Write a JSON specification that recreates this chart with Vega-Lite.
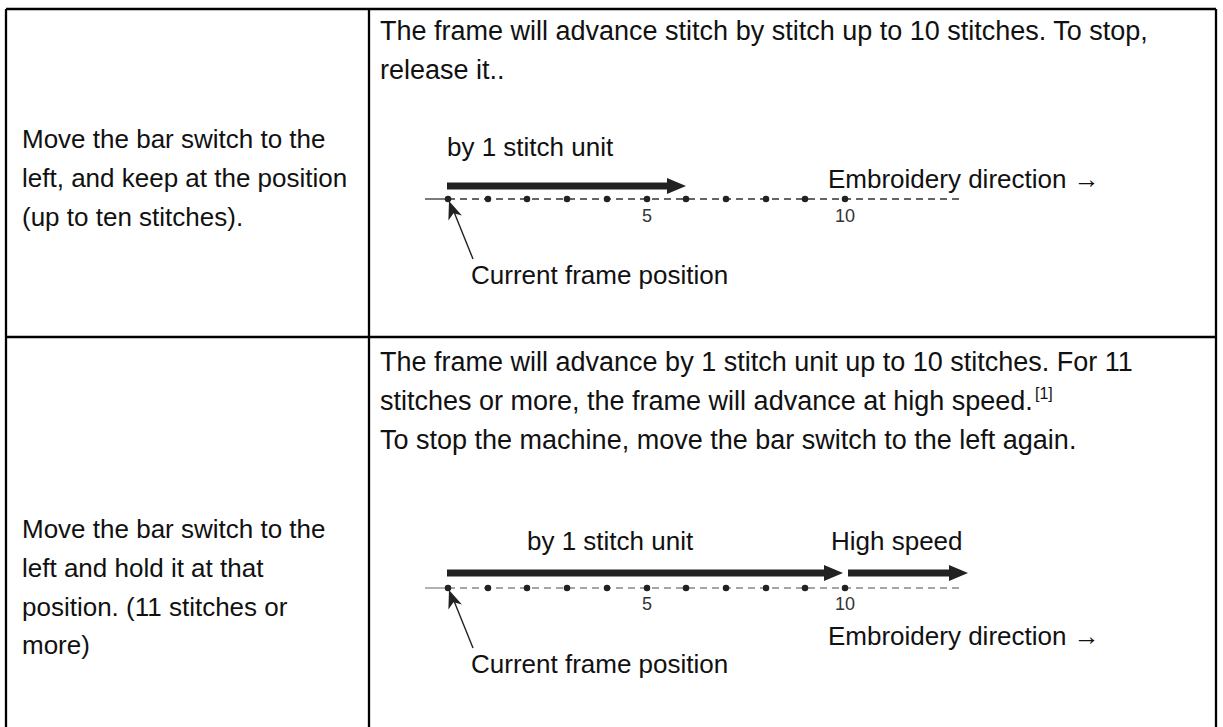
{
  "$schema": "https://vega.github.io/schema/vega-lite/v6.json",
  "width": 1223,
  "height": 727,
  "autosize": {"type": "none"},
  "padding": 0,
  "background": "white",
  "config": {"view": {"stroke": null}, "font": "Liberation Sans"},
  "datasets": {
    "borders": [
      {"x": 6, "y": 9, "x2": 1216, "y2": 9},
      {"x": 6, "y": 337, "x2": 1216, "y2": 337},
      {"x": 6, "y": 9, "x2": 6, "y2": 740},
      {"x": 369, "y": 9, "x2": 369, "y2": 740},
      {"x": 1216, "y": 9, "x2": 1216, "y2": 740}
    ],
    "baseline_solid": [
      {"row": "1", "x": 425, "x2": 448, "y": 199},
      {"row": "2", "x": 425, "x2": 448, "y": 588}
    ],
    "baseline_dash": [
      {"row": "1", "x": 448, "x2": 963, "y": 199},
      {"row": "2", "x": 448, "x2": 963, "y": 588}
    ],
    "dots": [
      {"stitch": 0, "x": 448, "y": 199}, {"stitch": 1, "x": 488, "y": 199}, {"stitch": 2, "x": 527, "y": 199},
      {"stitch": 3, "x": 567, "y": 199}, {"stitch": 4, "x": 607, "y": 199}, {"stitch": 5, "x": 647, "y": 199},
      {"stitch": 6, "x": 686, "y": 199}, {"stitch": 7, "x": 726, "y": 199}, {"stitch": 8, "x": 766, "y": 199},
      {"stitch": 9, "x": 805, "y": 199}, {"stitch": 10, "x": 845, "y": 199},
      {"stitch": 0, "x": 448, "y": 588}, {"stitch": 1, "x": 488, "y": 588}, {"stitch": 2, "x": 527, "y": 588},
      {"stitch": 3, "x": 567, "y": 588}, {"stitch": 4, "x": 607, "y": 588}, {"stitch": 5, "x": 647, "y": 588},
      {"stitch": 6, "x": 686, "y": 588}, {"stitch": 7, "x": 726, "y": 588}, {"stitch": 8, "x": 766, "y": 588},
      {"stitch": 9, "x": 805, "y": 588}, {"stitch": 10, "x": 845, "y": 588}
    ],
    "arrows": [
      {"name": "by 1 stitch unit", "x": 447, "shaftEnd": 670, "tip": 686, "y": 186},
      {"name": "by 1 stitch unit", "x": 447, "shaftEnd": 827, "tip": 843, "y": 573},
      {"name": "High speed", "x": 848, "shaftEnd": 952, "tip": 968, "y": 573}
    ],
    "pointers": [
      {"x": 473, "y": 259, "x2": 452, "y2": 207, "tipx": 449, "tipy": 201},
      {"x": 473, "y": 648, "x2": 452, "y2": 596, "tipx": 449, "tipy": 590}
    ],
    "text_main": [
      {"x": 22, "y": 140, "text": "Move the bar switch to the"},
      {"x": 22, "y": 179, "text": "left, and keep at the position"},
      {"x": 22, "y": 218, "text": "(up to ten stitches)."},
      {"x": 447, "y": 148, "text": "by 1 stitch unit"},
      {"x": 828, "y": 180, "text": "Embroidery direction →"},
      {"x": 471, "y": 276, "text": "Current frame position"},
      {"x": 22, "y": 530, "text": "Move the bar switch to the"},
      {"x": 22, "y": 569, "text": "left and hold it at that"},
      {"x": 22, "y": 608, "text": "position. (11 stitches or"},
      {"x": 22, "y": 646, "text": "more)"},
      {"x": 527, "y": 542, "text": "by 1 stitch unit"},
      {"x": 831, "y": 542, "text": "High speed"},
      {"x": 828, "y": 637, "text": "Embroidery direction →"},
      {"x": 471, "y": 665, "text": "Current frame position"}
    ],
    "text_para": [
      {"x": 380, "y": 32, "text": "The frame will advance stitch by stitch up to 10 stitches. To stop,"},
      {"x": 380, "y": 71, "text": "release it.."},
      {"x": 380, "y": 363, "text": "The frame will advance by 1 stitch unit up to 10 stitches. For 11"},
      {"x": 380, "y": 402, "text": "stitches or more, the frame will advance at high speed."},
      {"x": 380, "y": 441, "text": "To stop the machine, move the bar switch to the left again."}
    ],
    "text_num": [
      {"x": 647, "y": 217, "text": "5"},
      {"x": 845, "y": 217, "text": "10"},
      {"x": 647, "y": 605, "text": "5"},
      {"x": 845, "y": 605, "text": "10"}
    ],
    "text_sup": [
      {"x": 1035, "y": 394, "text": "[1]"}
    ]
  },
  "layer": [
    {
      "data": {"name": "borders"},
      "mark": {"type": "rule", "color": "#000000", "strokeWidth": 2.3},
      "encoding": {
        "x": {"field": "x", "type": "quantitative", "scale": {"domain": [0, 1223], "nice": false, "zero": false}, "axis": null},
        "y": {"field": "y", "type": "quantitative", "scale": {"domain": [0, 727], "nice": false, "zero": false, "reverse": true}, "axis": null},
        "x2": {"field": "x2"},
        "y2": {"field": "y2"}
      }
    },
    {
      "data": {"name": "baseline_solid"},
      "mark": {"type": "rule", "strokeWidth": 1.3},
      "encoding": {
        "x": {"field": "x", "type": "quantitative"},
        "x2": {"field": "x2"},
        "y": {"field": "y", "type": "quantitative"},
        "color": {"field": "row", "type": "nominal", "scale": {"domain": ["1", "2"], "range": ["#333333", "#888888"]}, "legend": null}
      }
    },
    {
      "data": {"name": "baseline_dash"},
      "mark": {"type": "rule", "strokeWidth": 1.3, "strokeDash": [7, 5]},
      "encoding": {
        "x": {"field": "x", "type": "quantitative"},
        "x2": {"field": "x2"},
        "y": {"field": "y", "type": "quantitative"},
        "color": {"field": "row", "type": "nominal", "scale": {"domain": ["1", "2"], "range": ["#333333", "#888888"]}, "legend": null}
      }
    },
    {
      "data": {"name": "dots"},
      "mark": {"type": "point", "shape": "circle", "filled": true, "opacity": 1, "size": 42, "color": "#222222"},
      "encoding": {
        "x": {"field": "x", "type": "quantitative"},
        "y": {"field": "y", "type": "quantitative"}
      }
    },
    {
      "data": {"name": "arrows"},
      "mark": {"type": "rule", "strokeWidth": 7, "color": "#222222"},
      "encoding": {
        "x": {"field": "x", "type": "quantitative"},
        "x2": {"field": "shaftEnd"},
        "y": {"field": "y", "type": "quantitative"}
      }
    },
    {
      "data": {"name": "arrows"},
      "mark": {"type": "point", "shape": "M 0 0 L -2 -0.85 L -2 0.85 Z", "filled": true, "opacity": 1, "size": 361, "color": "#222222"},
      "encoding": {
        "x": {"field": "tip", "type": "quantitative"},
        "y": {"field": "y", "type": "quantitative"}
      }
    },
    {
      "data": {"name": "pointers"},
      "mark": {"type": "rule", "strokeWidth": 1.4, "color": "#222222"},
      "encoding": {
        "x": {"field": "x", "type": "quantitative"},
        "y": {"field": "y", "type": "quantitative"},
        "x2": {"field": "x2"},
        "y2": {"field": "y2"}
      }
    },
    {
      "data": {"name": "pointers"},
      "mark": {"type": "point", "shape": "M 0 0 L -2 -0.8 L -1.45 0 L -2 0.8 Z", "filled": true, "opacity": 1, "size": 324, "angle": 250, "color": "#222222"},
      "encoding": {
        "x": {"field": "tipx", "type": "quantitative"},
        "y": {"field": "tipy", "type": "quantitative"}
      }
    },
    {
      "data": {"name": "text_main"},
      "mark": {"type": "text", "align": "left", "baseline": "middle", "fontSize": 26, "font": "Liberation Sans", "color": "#111111"},
      "encoding": {
        "x": {"field": "x", "type": "quantitative"},
        "y": {"field": "y", "type": "quantitative"},
        "text": {"field": "text", "type": "nominal"}
      }
    },
    {
      "data": {"name": "text_para"},
      "mark": {"type": "text", "align": "left", "baseline": "middle", "fontSize": 27, "font": "Liberation Sans", "color": "#111111"},
      "encoding": {
        "x": {"field": "x", "type": "quantitative"},
        "y": {"field": "y", "type": "quantitative"},
        "text": {"field": "text", "type": "nominal"}
      }
    },
    {
      "data": {"name": "text_num"},
      "mark": {"type": "text", "align": "center", "baseline": "middle", "fontSize": 18, "font": "Liberation Sans", "color": "#333333"},
      "encoding": {
        "x": {"field": "x", "type": "quantitative"},
        "y": {"field": "y", "type": "quantitative"},
        "text": {"field": "text", "type": "nominal"}
      }
    },
    {
      "data": {"name": "text_sup"},
      "mark": {"type": "text", "align": "left", "baseline": "middle", "fontSize": 16, "font": "Liberation Sans", "color": "#111111"},
      "encoding": {
        "x": {"field": "x", "type": "quantitative"},
        "y": {"field": "y", "type": "quantitative"},
        "text": {"field": "text", "type": "nominal"}
      }
    }
  ]
}
